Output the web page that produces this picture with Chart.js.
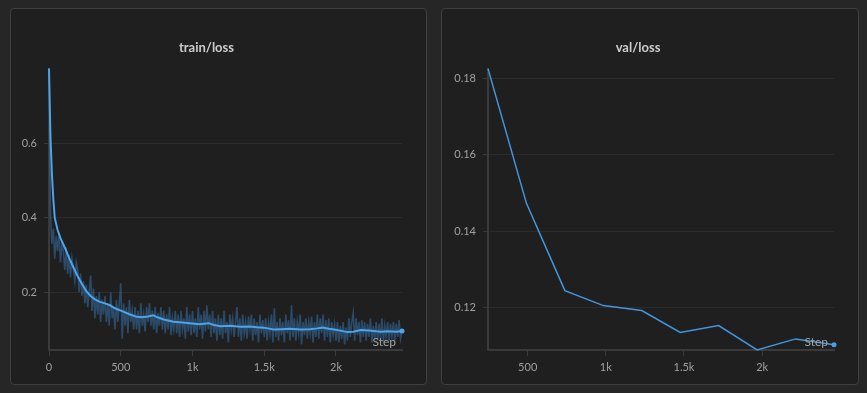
<!DOCTYPE html>
<html>
<head>
<meta charset="utf-8">
<script src="https://cdn.jsdelivr.net/npm/chart.js@4.4.1/dist/chart.umd.min.js"></script>
<style>
  html, body { margin: 0; padding: 0; background: #262626; }
  body { width: 867px; height: 393px; position: relative; overflow: hidden; }
  .panel { position: absolute; top: 8px; height: 377px; box-sizing: border-box;
           border: 1px solid #3f3f3f; border-radius: 4px; background: #1f1f1f; }
  .panel canvas { display: block; }
</style>
</head>
<body>
<div class="panel" style="left:10px;width:417px"><canvas id="trainChart" width="415" height="375"></canvas></div>
<div class="panel" style="left:441px;width:418px"><canvas id="valChart" width="416" height="375"></canvas></div>
<script>
const trainRawInterval = 10;
const trainRaw = [
  0.80, 0.41, 0.33, 0.37, 0.29, 0.35, 0.31, 0.36, 0.28, 0.33,
  0.31, 0.26, 0.32, 0.25, 0.30, 0.24, 0.29, 0.26, 0.23, 0.28,
  0.26, 0.20, 0.25, 0.19, 0.23, 0.17, 0.22, 0.16, 0.20, 0.245,
  0.15, 0.21, 0.13, 0.19, 0.14, 0.20, 0.12, 0.18, 0.14, 0.19,
  0.12, 0.17, 0.11, 0.20, 0.13, 0.16, 0.10, 0.18, 0.12, 0.17,
  0.224, 0.075, 0.17, 0.11, 0.16, 0.09, 0.18, 0.12, 0.15, 0.10,
  0.16, 0.10, 0.15, 0.09, 0.17, 0.11, 0.14, 0.095, 0.16, 0.12,
  0.17, 0.11, 0.15, 0.10, 0.16, 0.09, 0.145, 0.11, 0.16, 0.10,
  0.15, 0.09, 0.14, 0.10, 0.16, 0.085, 0.13, 0.10, 0.15, 0.09,
  0.14, 0.08, 0.15, 0.10, 0.13, 0.075, 0.16, 0.095, 0.14, 0.085,
  0.15, 0.09, 0.13, 0.08, 0.16, 0.10, 0.14, 0.075, 0.15, 0.095,
  0.165, 0.10, 0.14, 0.08, 0.15, 0.09, 0.13, 0.07, 0.14, 0.085,
  0.13, 0.075, 0.15, 0.09, 0.12, 0.065, 0.14, 0.10, 0.13, 0.08,
  0.12, 0.16, 0.08, 0.13, 0.07, 0.14, 0.09, 0.12, 0.075, 0.135,
  0.10, 0.14, 0.07, 0.13, 0.085, 0.12, 0.065, 0.14, 0.09, 0.125,
  0.08, 0.13, 0.07, 0.12, 0.09, 0.14, 0.065, 0.157, 0.08, 0.12,
  0.07, 0.13, 0.085, 0.12, 0.065, 0.14, 0.09, 0.125, 0.07, 0.165,
  0.08, 0.13, 0.07, 0.12, 0.09, 0.14, 0.06, 0.12, 0.085, 0.13,
  0.075, 0.12, 0.09, 0.135, 0.065, 0.12, 0.08, 0.14, 0.075, 0.13,
  0.09, 0.14, 0.07, 0.125, 0.08, 0.13, 0.065, 0.12, 0.085, 0.115,
  0.07, 0.12, 0.065, 0.11, 0.075, 0.12, 0.06, 0.105, 0.07, 0.13,
  0.08, 0.12, 0.145, 0.07, 0.13, 0.085, 0.12, 0.065, 0.125, 0.08,
  0.12, 0.07, 0.115, 0.08, 0.13, 0.065, 0.11, 0.075, 0.12, 0.07,
  0.115, 0.075, 0.13, 0.065, 0.11, 0.08, 0.12, 0.07, 0.115, 0.08,
  0.12, 0.07, 0.115, 0.08, 0.125, 0.075, 0.096
];

// smoothed train/loss curve
const trainSmoothSteps = [0, 10, 20, 30, 40, 60, 80, 110, 140, 170, 200, 230, 260, 290, 320, 355, 390, 425, 460, 518,
  560, 611, 650, 690, 727, 760, 800, 867, 930, 996, 1050, 1112, 1150, 1194, 1260, 1333, 1400, 1450, 1497, 1566,
  1620, 1680, 1753, 1820, 1870, 1905, 1950, 1986, 2030, 2080, 2120, 2173, 2230, 2280, 2313, 2360, 2420, 2460];
const trainSmooth = [0.80, 0.62, 0.52, 0.45, 0.40, 0.367, 0.345, 0.32, 0.292, 0.267, 0.243, 0.222, 0.203, 0.19, 0.181, 0.174, 0.170, 0.165, 0.157, 0.148,
  0.141, 0.134, 0.133, 0.135, 0.138, 0.132, 0.127, 0.121, 0.119, 0.116, 0.114, 0.117, 0.112, 0.109, 0.110, 0.1075, 0.108, 0.106, 0.105, 0.100,
  0.101, 0.102, 0.100, 0.101, 0.103, 0.105, 0.102, 0.100, 0.097, 0.093, 0.094, 0.0985, 0.097, 0.095, 0.094, 0.095, 0.094, 0.096];

const trainXTicks = [0, 500, 1000, 1500, 2000];
const trainXLabels = ['0', '500', '1k', '1.5k', '2k'];
const trainYTicks = [0.2, 0.4, 0.6];
const trainYLabels = ['0.2', '0.4', '0.6'];

// val/loss
const valSteps = [246, 492, 738, 984, 1230, 1476, 1722, 1968, 2214, 2460];
const valLoss = [0.1825, 0.1473, 0.1245, 0.1206, 0.1193, 0.1136, 0.1154, 0.1090, 0.1119, 0.1104];

const valXTicks = [500, 1000, 1500, 2000];
const valXLabels = ['500', '1k', '1.5k', '2k'];
const valYTicks = [0.12, 0.14, 0.16, 0.18];
const valYLabels = ['0.12', '0.14', '0.16', '0.18'];

const FONT = 'Lato';
const AXIS = '#3a3a3a';

const stepLabel = {
  id: 'stepLabel',
  afterDatasetsDraw(chart) {
    const a = chart.chartArea, ctx = chart.ctx;
    ctx.save();
    ctx.font = '12px ' + FONT;
    ctx.fillStyle = '#a3a3a3';
    ctx.textAlign = 'right';
    ctx.textBaseline = 'middle';
    ctx.fillText('Step', a.right - 6, a.bottom - 8);
    ctx.restore();
  }
};

function lastDot(ctx) {
  return ctx.dataIndex === ctx.dataset.data.length - 1 ? 2.5 : 0;
}

function makeOptions(title, xMin, xMax, xTicks, xLabels, yMin, yMax, yTicks, yLabels, yWidth) {
  return {
    responsive: false,
    animation: false,
    layout: { padding: { left: 0, right: 24, top: 0, bottom: 0 } },
    plugins: {
      legend: { display: false },
      tooltip: { enabled: false },
      title: {
        display: true,
        text: title,
        color: '#cccccc',
        font: { family: FONT, size: 13, weight: 'bold' },
        padding: { top: 31, bottom: 13 }
      }
    },
    scales: {
      x: {
        type: 'linear',
        min: xMin,
        max: xMax,
        afterBuildTicks: s => { s.ticks = xTicks.map(v => ({ value: v })); },
        afterFit: s => { s.height = 34; },
        grid: { drawOnChartArea: false, drawTicks: true, tickLength: 6, tickColor: AXIS },
        border: { display: true, color: AXIS, width: 2 },
        ticks: {
          color: '#a0a0a0',
          font: { family: FONT, size: 11 },
          padding: 5,
          maxRotation: 0,
          autoSkip: false,
          callback: (v, i) => xLabels[i]
        }
      },
      y: {
        min: yMin,
        max: yMax,
        afterBuildTicks: s => { s.ticks = yTicks.map(v => ({ value: v })); },
        afterFit: s => { s.width = yWidth; },
        grid: { color: '#2c2c2c', lineWidth: 1, tickLength: 5, tickColor: AXIS },
        border: { display: true, color: AXIS, width: 2 },
        ticks: {
          color: '#a0a0a0',
          font: { family: FONT, size: 11 },
          padding: 7,
          autoSkip: false,
          callback: (v, i) => yLabels[i]
        }
      }
    }
  };
}

new Chart(document.getElementById('trainChart'), {
  type: 'line',
  data: {
    datasets: [
      {
        label: 'smoothed',
        data: trainSmoothSteps.map((s, i) => ({ x: s, y: trainSmooth[i] })),
        borderColor: 'rgb(78, 163, 233)',
        backgroundColor: 'rgb(78, 163, 233)',
        borderWidth: 2,
        pointRadius: lastDot,
        pointBorderWidth: 0,
        tension: 0,
        clip: 6
      },
      {
        label: 'raw',
        data: trainRaw.map((v, i) => ({ x: i * trainRawInterval, y: v })),
        borderColor: 'rgba(60, 135, 205, 0.42)',
        borderWidth: 1.6,
        pointRadius: 0,
        tension: 0
      }
    ]
  },
  options: makeOptions('train/loss', 0, 2460, trainXTicks, trainXLabels, 0.045, 0.8, trainYTicks, trainYLabels, 38),
  plugins: [stepLabel]
});

new Chart(document.getElementById('valChart'), {
  type: 'line',
  data: {
    datasets: [{
      label: 'val/loss',
      data: valSteps.map((s, i) => ({ x: s, y: valLoss[i] })),
      borderColor: 'rgb(66, 150, 222)',
      backgroundColor: 'rgb(70, 158, 232)',
      borderWidth: 1.5,
      pointRadius: lastDot,
      pointBorderWidth: 0,
      tension: 0,
      clip: 6
    }]
  },
  options: makeOptions('val/loss', 246, 2460, valXTicks, valXLabels, 0.109, 0.1825, valYTicks, valYLabels, 46),
  plugins: [stepLabel]
});
</script>
</body>
</html>
